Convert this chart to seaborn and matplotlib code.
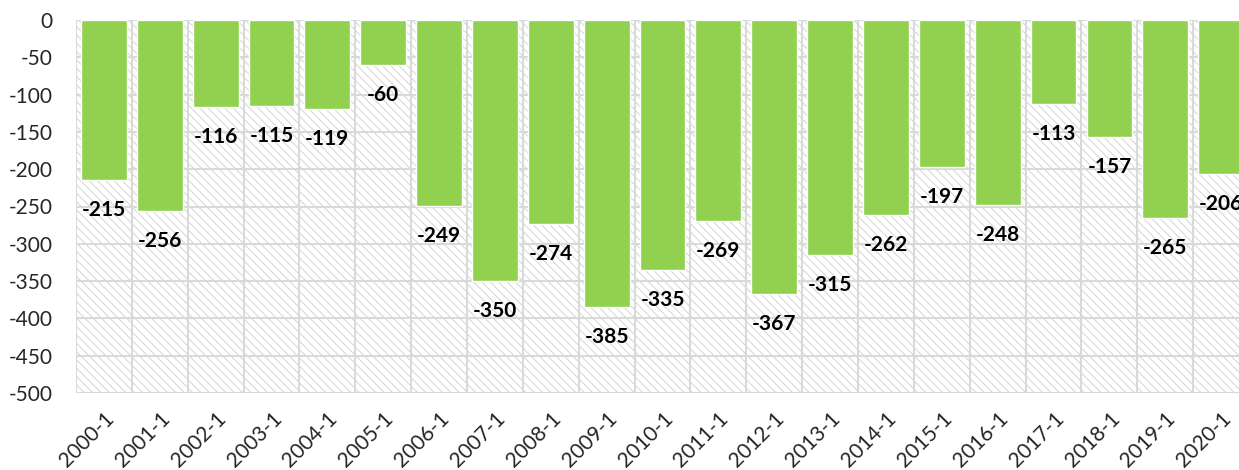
import matplotlib
matplotlib.use('Agg')
import matplotlib.pyplot as plt
import seaborn as sns
import pandas as pd
from matplotlib.patches import Rectangle

periods = ['2000-1', '2001-1', '2002-1', '2003-1', '2004-1', '2005-1', '2006-1',
           '2007-1', '2008-1', '2009-1', '2010-1', '2011-1', '2012-1', '2013-1',
           '2014-1', '2015-1', '2016-1', '2017-1', '2018-1', '2019-1', '2020-1']
values = [-215, -256, -116, -115, -119, -60, -249, -350, -274, -385, -335,
          -269, -367, -315, -262, -197, -248, -113, -157, -265, -206]
y_ticks = list(range(0, -501, -50))

BAR_COLOR = '#92d050'
GRID_COLOR = '#d9d9d9'

sns.set_theme(style='white')
plt.rcParams['font.family'] = ['Lato', 'DejaVu Sans']
plt.rcParams['hatch.linewidth'] = 0.7
plt.rcParams['hatch.color'] = '#d4d4d4'

df = pd.DataFrame({'period': periods, 'value': values})

fig = plt.figure(figsize=(12.39, 4.70), dpi=100)
ax = fig.add_axes([76 / 1239, 1 - 393 / 470, 1 - 76 / 1239, (393 - 20) / 470])

# hatched plot-area background
ax.add_patch(Rectangle((0, 0), 1, 1, transform=ax.transAxes, facecolor='white',
                       edgecolor='#d4d4d4', hatch='\\\\\\\\', linewidth=0, zorder=0))

sns.barplot(data=df, x='period', y='value', color=BAR_COLOR, width=0.82,
            saturation=1, ax=ax, zorder=3)

# gridlines at each 50 and at category boundaries
for yv in y_ticks:
    ax.axhline(yv, color=GRID_COLOR, linewidth=1.5, zorder=1)
for i in range(len(periods) + 1):
    ax.axvline(i - 0.5, color=GRID_COLOR, linewidth=1.5, zorder=1)

for i, v in enumerate(values):
    ax.annotate(f'{v}', xy=(i, v), xytext=(0, -20), textcoords='offset pixels',
                ha='center', va='top', fontsize=15, fontweight='bold',
                color='black', zorder=4)

ax.set_xlim(-0.5, 20.32)
ax.set_ylim(-500, 0)
ax.set_yticks(y_ticks)
ax.set_yticklabels([str(t) for t in y_ticks], fontsize=15)
ax.set_xticks(range(len(periods)))
ax.set_xticklabels(periods, rotation=45, ha='right', rotation_mode='anchor',
                   fontsize=15)
ax.set_xlabel('')
ax.set_ylabel('')
ax.tick_params(axis='y', length=0, pad=17)
ax.tick_params(axis='x', length=0, pad=11)
for s in ax.spines.values():
    s.set_visible(False)

fig.savefig('out.png', dpi=100)
